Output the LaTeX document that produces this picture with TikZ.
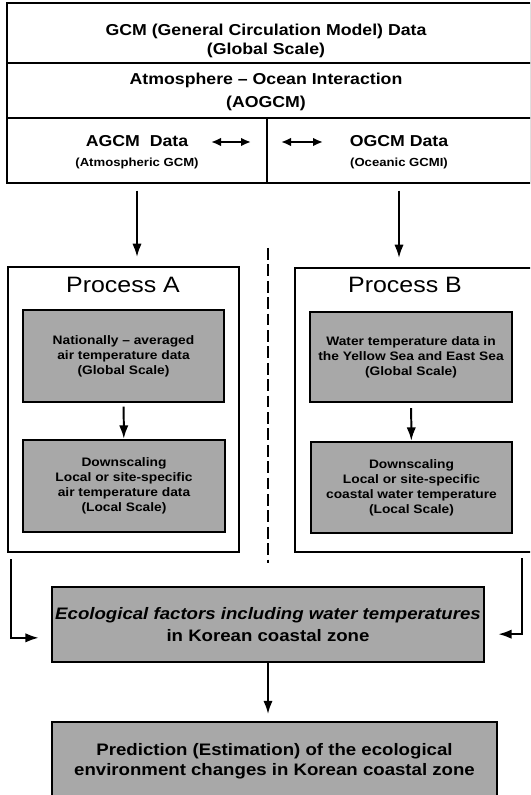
\documentclass[tikz,border=0pt]{standalone}
\usepackage{fontspec}
\setmainfont{Liberation Sans}[FakeStretch=1.12]
\usetikzlibrary{arrows.meta}

\begin{document}
\begin{tikzpicture}[x=0.03cm, y=-0.03cm,
  cell/.style={draw, line width=1.7pt, inner sep=0pt},
  panel/.style={draw, line width=1.7pt, inner sep=0pt},
  shaded/.style={draw, line width=2.1pt, fill=black!34, inner sep=0pt, align=center, font=\fontsize{10.5}{12.8}\selectfont\bfseries},
  big/.style={font=\fontsize{13.5}{16.5}\selectfont\bfseries, align=center, inner sep=0pt},
  flow/.style={-{Latex[length=4mm,width=2.8mm]}, line width=1.7pt},
  twoway/.style={{Latex[length=3mm,width=2.6mm]}-{Latex[length=3mm,width=2.6mm]}, line width=1.9pt},
  divider/.style={line width=1.5pt, dash pattern=on 10pt off 4pt}]
\useasboundingbox (0,0) rectangle (530,795);
\clip (0,0) rectangle (530,795);

% GCM table
\node[cell, minimum width=15.72cm, minimum height=1.8cm] (gcm) at (269,33) {};
\node[cell, minimum width=15.72cm, minimum height=1.65cm] (aogcm) at (269,90.5) {};
\node[cell, minimum width=7.8cm, minimum height=1.95cm] (agcm) at (137,150.5) {};
\node[cell, minimum width=7.92cm, minimum height=1.95cm] (ogcm) at (399,150.5) {};
\node[big] (gcmtxt) at (266,41) {GCM (General Circulation Model) Data\\(Global Scale)};
\node[big] (aotxt) at (266,91.5) {Atmosphere -- Ocean Interaction\\[3pt](AOGCM)};
\node[big] (agtxt) at (137,152) {AGCM\ \ Data\\[1pt]{\fontsize{10}{12}\selectfont(Atmospheric GCM)}};
\node[big] (ogtxt) at (399,152) {OGCM Data\\[1pt]{\fontsize{10}{12}\selectfont(Oceanic GCMI)}};

% Interaction arrows
\coordinate (xa) at (211,142);
\coordinate (xb) at (251,142);
\coordinate (xc) at (281,142);
\coordinate (xd) at (323,142);
\draw[twoway] (xa) -- (xb);
\draw[twoway] (xc) -- (xd);

% Process A
\node[panel, minimum width=6.93cm, minimum height=8.55cm] (procA) at (123.5,409.5) {};
\node[font=\fontsize{19}{22}\selectfont] (titA) at (123,285) {Process A};
\node[shaded, minimum width=6.03cm, minimum height=2.76cm] (a1) at (123.5,356) {Nationally -- averaged\\air temperature data\\(Global Scale)};
\node[shaded, minimum width=6.06cm, minimum height=2.76cm] (a2) at (124,486) {Downscaling\\Local or site-specific\\air temperature data\\(Local Scale)};

% Process B
\node[panel, minimum width=7.2cm, minimum height=8.52cm] (procB) at (415,410) {};
\node[font=\fontsize{19}{22}\selectfont] (titB) at (405,285) {Process B};
\node[shaded, minimum width=6.06cm, minimum height=2.7cm] (b1) at (411,357) {Water temperature data in\\the Yellow Sea and East Sea\\(Global Scale)};
\node[shaded, minimum width=6.03cm, minimum height=2.73cm] (b2) at (411.5,487.5) {Downscaling\\Local or site-specific\\coastal water temperature\\(Local Scale)};

% Separator (dashed)
\coordinate (dtop) at (268,248);
\coordinate (dbot) at (268,563);
\draw[divider] (dtop) -- (dbot);

% Results
\node[shaded, minimum width=12.96cm, minimum height=2.25cm, font=\fontsize{14.2}{18.5}\selectfont\bfseries] (eco) at (268,624.5) {\textit{Ecological factors including water temperatures}\\in Korean coastal zone};
\node[shaded, minimum width=13.35cm, minimum height=2.34cm, font=\fontsize{14.2}{17.5}\selectfont\bfseries] (pred) at (274.5,761) {Prediction (Estimation) of the ecological\\environment changes in Korean coastal zone};

% Flow arrows
\draw[flow, shorten <=2mm, shorten >=2.7mm] (agcm.south) -- (agcm.south |- procA.north);
\draw[flow, shorten <=2mm, shorten >=2.7mm] (ogcm.south) -- (ogcm.south |- procB.north);
\draw[flow, shorten <=1mm] (a1) -- (a2);
\draw[flow, shorten <=1.5mm] (b1) -- (b2);
\coordinate (afeed) at ([xshift=0.12cm,yshift=-0.18cm]procA.south west);
\coordinate (bfeed) at (522,558);
\draw[flow, shorten >=3.6mm] (afeed) |- ([yshift=-0.4cm]eco.west);
\draw[flow, shorten >=3.9mm] (bfeed) |- ([yshift=-0.29cm]eco.east);
\draw[flow, shorten >=2mm] (eco.south) -- (eco.south |- pred.north);
\end{tikzpicture}
\end{document}
